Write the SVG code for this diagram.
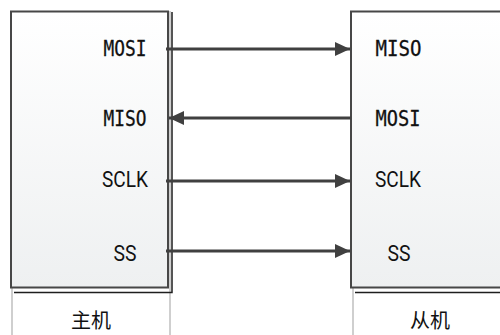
<svg xmlns="http://www.w3.org/2000/svg" width="500" height="335" viewBox="0 0 500 335">
<defs>
<linearGradient id="boxfill" x1="0" y1="0" x2="0" y2="1">
<stop offset="0" stop-color="#ffffff"/>
<stop offset="1" stop-color="#eef0f1"/>
</linearGradient>
<marker id="arr" markerUnits="userSpaceOnUse" markerWidth="16" markerHeight="14" refX="15" refY="7" orient="auto">
<path d="M0,0 L15,7 L0,14 z" fill="#404040"/>
</marker>
<style>
.lane{stroke:#cfcfcf;stroke-width:2;fill:none}
.box{fill:url(#boxfill);stroke:#474747;stroke-width:2}
.shadow{stroke:#1e1e1e;stroke-width:1.5;fill:none}
.mono{font-family:"DejaVu Sans Mono","Liberation Mono",monospace;font-size:22px;fill:#111;text-anchor:middle;stroke:#111;stroke-width:0.3}
.sans{font-family:Roboto,"Liberation Sans",sans-serif;font-size:22px;fill:#111;text-anchor:middle}
.cjk{font-family:"Noto Sans CJK SC",sans-serif;font-size:20px;fill:#111;text-anchor:middle}
.conn{stroke:#404040;stroke-width:3;fill:none;marker-end:url(#arr)}
</style>
</defs>
<rect width="500" height="335" fill="#ffffff"/>
<g id="master">
<line class="lane" x1="12" y1="11" x2="12" y2="335"/>
<line class="lane" x1="170" y1="11" x2="170" y2="335"/>
<path class="shadow" d="M172,12 V292.5 H14"/>
<rect class="box" x="11" y="11.5" width="157" height="276"/>
<text class="mono" x="125" y="56" textLength="43" lengthAdjust="spacingAndGlyphs">MOSI</text>
<text class="mono" x="125" y="126" textLength="43" lengthAdjust="spacingAndGlyphs">MISO</text>
<text class="sans" x="125" y="187" textLength="46" lengthAdjust="spacingAndGlyphs">SCLK</text>
<text class="sans" x="125" y="261" textLength="23" lengthAdjust="spacingAndGlyphs">SS</text>
<text class="cjk" x="91" y="328">主机</text>
</g>
<g id="slave">
<line class="lane" x1="353" y1="11" x2="353" y2="335"/>
<path class="shadow" d="M355,292.5 H502"/>
<rect class="box" x="351" y="11.5" width="160" height="276"/>
<text class="mono" x="398.5" y="56" textLength="46" lengthAdjust="spacingAndGlyphs">MISO</text>
<text class="mono" x="398" y="126" textLength="45" lengthAdjust="spacingAndGlyphs">MOSI</text>
<text class="sans" x="398" y="187" textLength="46" lengthAdjust="spacingAndGlyphs">SCLK</text>
<text class="sans" x="399" y="261" textLength="23" lengthAdjust="spacingAndGlyphs">SS</text>
<text class="cjk" x="430" y="328">从机</text>
</g>
<g id="connectors">
<path class="conn" d="M166,49 H350"/>
<path class="conn" d="M351,118 H169"/>
<path class="conn" d="M166,181 H350"/>
<path class="conn" d="M166,251 H350"/>
</g>
</svg>
